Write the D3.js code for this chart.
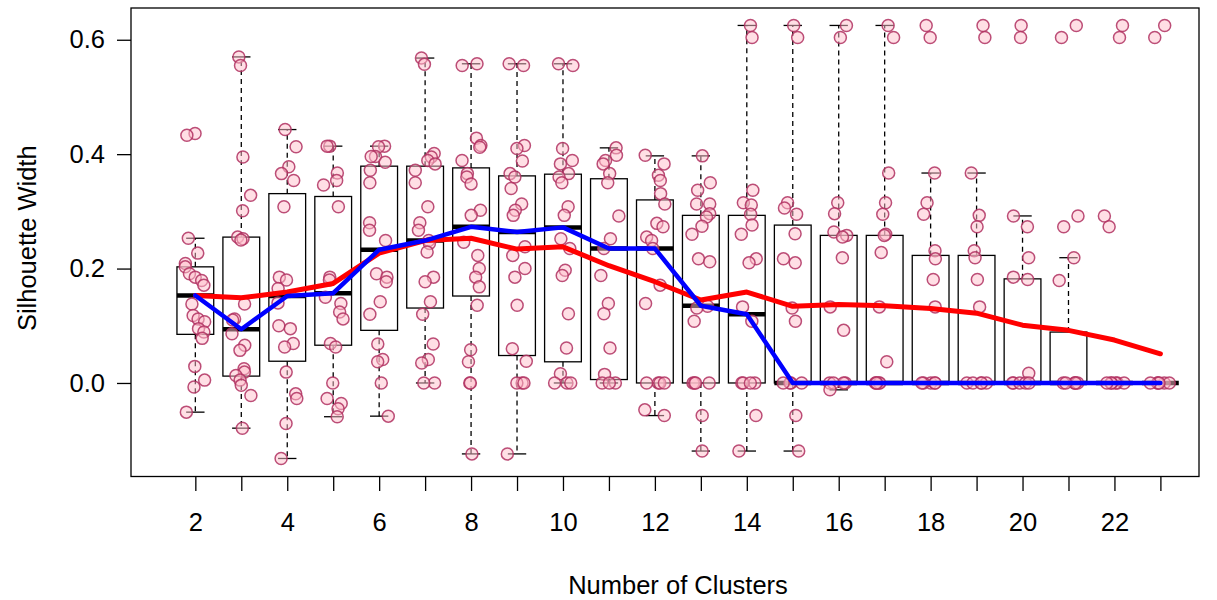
<!DOCTYPE html>
<html>
<head>
<meta charset="utf-8">
<script src="https://cdn.jsdelivr.net/npm/d3@7"></script>
<style>
  body { margin: 0; background: #fff; }
  text { font-family: "Liberation Sans", Arial, Helvetica, sans-serif; fill: #000; }
</style>
</head>
<body>
<div id="chart"></div>
<script>
let clusters = [2,3,4,5,6,7,8,9,10,11,12,13,14,15,16,17,18,19,20,21,22,23];

// box statistics per number of clusters
let q1 = [0.085,0.012,0.038,0.066,0.092,0.131,0.152,0.048,0.037,0.006,0,0,0,0,0,0,0,0,0,0,0,0];
let medians = [0.153,0.094,0.152,0.157,0.233,0.249,0.273,0.264,0.272,0.235,0.235,0.135,0.120,0,0,0,0,0,0,0,0,0];
let q3 = [0.203,0.255,0.331,0.326,0.379,0.379,0.376,0.362,0.365,0.357,0.320,0.293,0.293,0.276,0.258,0.258,0.223,0.223,0.182,0.089,0,0];
let whiskerLo = [-0.051,-0.079,-0.132,-0.059,-0.058,0,-0.124,-0.124,0,0,-0.057,-0.119,-0.119,-0.119,-0.012,0,0,0,0,0,0,0];
let whiskerHi = [0.253,0.570,0.443,0.414,0.414,0.568,0.558,0.558,0.558,0.411,0.397,0.397,0.625,0.625,0.625,0.625,0.367,0.367,0.292,0.219,0,0];

// mean silhouette width (red line)
let means = [0.153,0.149,0.159,0.174,0.227,0.249,0.253,0.234,0.238,0.205,0.177,0.145,0.159,0.134,0.137,0.135,0.130,0.122,0.101,0.092,0.075,0.051];

// individual silhouette widths, one list per number of clusters
let silhouettes = [
  [0.436,0.433,0.253,0.227,0.209,0.203,0.191,0.185,0.179,0.171,0.138,0.118,0.112,0.107,0.095,0.089,0.078,0.029,0.005,-0.007,-0.051],
  [0.570,0.555,0.395,0.328,0.301,0.255,0.252,0.250,0.138,0.112,0.110,0.086,0.066,0.057,0.025,0.019,0.013,0.005,-0.004,-0.022,-0.079],
  [0.443,0.413,0.378,0.366,0.354,0.308,0.185,0.180,0.165,0.140,0.100,0.095,0.069,0.063,0.019,-0.019,-0.027,-0.071,-0.132],
  [0.414,0.414,0.367,0.354,0.346,0.308,0.185,0.180,0.150,0.139,0.124,0.112,0.069,0.063,0.000,-0.027,-0.036,-0.045,-0.059],
  [0.414,0.413,0.396,0.396,0.386,0.372,0.350,0.280,0.267,0.249,0.191,0.185,0.177,0.142,0.120,0.068,0.041,0.037,0.000,-0.058],
  [0.568,0.557,0.401,0.395,0.389,0.383,0.372,0.350,0.308,0.280,0.267,0.249,0.244,0.229,0.185,0.177,0.142,0.120,0.068,0.041,0.035,0.000,0.000],
  [0.558,0.555,0.428,0.415,0.412,0.389,0.366,0.360,0.348,0.302,0.293,0.246,0.223,0.200,0.185,0.168,0.136,0.058,0.037,0.000,0.000,-0.124],
  [0.558,0.555,0.415,0.410,0.388,0.366,0.360,0.340,0.313,0.302,0.293,0.238,0.223,0.200,0.185,0.136,0.060,0.038,0.000,0.000,0.000,-0.124],
  [0.558,0.555,0.410,0.389,0.383,0.366,0.360,0.350,0.308,0.293,0.252,0.235,0.197,0.188,0.121,0.061,0.016,0.000,0.000,0.000],
  [0.411,0.398,0.389,0.383,0.366,0.350,0.292,0.252,0.235,0.188,0.139,0.121,0.061,0.015,0.000,0.000,0.000],
  [0.398,0.383,0.363,0.354,0.331,0.313,0.279,0.273,0.255,0.249,0.235,0.171,0.139,0.000,0.000,0.000,0.000,-0.047,-0.057],
  [0.397,0.350,0.337,0.313,0.313,0.296,0.290,0.274,0.260,0.217,0.212,0.134,0.131,0.108,0.000,0.000,0.000,0.000,-0.057,-0.119],
  [0.625,0.604,0.337,0.315,0.311,0.295,0.276,0.260,0.217,0.210,0.133,0.108,0.000,0.000,0.000,0.000,-0.057,-0.119],
  [0.625,0.604,0.315,0.306,0.295,0.261,0.217,0.210,0.131,0.108,0.000,0.000,0.000,0.000,-0.057,-0.119],
  [0.625,0.604,0.315,0.296,0.264,0.258,0.255,0.219,0.133,0.092,0.000,0.000,0.000,0.000,-0.012],
  [0.625,0.604,0.367,0.315,0.295,0.260,0.258,0.228,0.133,0.037,0,0,0,0,0],
  [0.625,0.604,0.367,0.315,0.295,0.231,0.217,0.181,0.133,0,0,0,0,0],
  [0.625,0.604,0.367,0.293,0.273,0.231,0.219,0.181,0.133,0,0,0,0,0],
  [0.625,0.604,0.292,0.273,0.219,0.185,0.181,0.017,0,0,0,0,0],
  [0.625,0.604,0.292,0.273,0.219,0.179,0,0,0,0,0,0],
  [0.625,0.604,0.292,0.273,0,0,0,0,0,0],
  [0.625,0.604,0,0,0,0,0,0]
];

let yTicks = [0.0,0.2,0.4,0.6];
let xTicks = clusters;
let xLabels = [2,4,6,8,10,12,14,16,18,20,22];

let width = 1217, height = 600;
let plot = {left: 131, right: 1199, top: 8, bottom: 476.5};
let fontSize = "25.5px";

let svg = d3.select("#chart").append("svg")
    .attr("width", width)
    .attr("height", height);

let x = d3.scaleLinear()
    .domain([0.6, 23.84])
    .range([plot.left, plot.right]);

let y = d3.scaleLinear()
    .domain([-0.1635, 0.6555])
    .range([plot.bottom, plot.top]);

let boxW = x(0.8) - x(0);
let capW = boxW / 2;

// boxes and whiskers
clusters.forEach((k, i) => {
    let g = svg.append("g");
    let cx = x(k);

    // dashed whiskers
    [[q3[i], whiskerHi[i]], [q1[i], whiskerLo[i]]].forEach(w => {
        if (w[0] !== w[1]) {
            g.append("line")
            .attr("x1", cx).attr("x2", cx)
            .attr("y1", y(w[0])).attr("y2", y(w[1]))
            .attr("stroke", "#000")
            .attr("stroke-width", 1.3)
            .attr("stroke-dasharray", "5,4");
        }
        g.append("line")
        .attr("x1", cx - capW/2).attr("x2", cx + capW/2)
        .attr("y1", y(w[1])).attr("y2", y(w[1]))
        .attr("stroke", "#000")
        .attr("stroke-width", 1.3);
    });

    g.append("rect")
    .attr("x", cx - boxW/2)
    .attr("y", y(q3[i]))
    .attr("width", boxW)
    .attr("height", y(q1[i]) - y(q3[i]))
    .attr("fill", "none")
    .attr("stroke", "#000")
    .attr("stroke-width", 1.3);

    g.append("line")
    .attr("x1", cx - boxW/2).attr("x2", cx + boxW/2)
    .attr("y1", y(medians[i])).attr("y2", y(medians[i]))
    .attr("stroke", "#000")
    .attr("stroke-width", 4.5);
});

// jittered points (fixed seed so the picture is stable)
let jitter = d3.randomUniform.source(d3.randomLcg(0.37))(-0.22, 0.22);
let pts = [];
clusters.forEach((k, i) => {
    silhouettes[i].forEach(v => pts.push({k: k + jitter(), v: v}));
});

svg.append("g").selectAll("circle")
    .data(pts)
    .join("circle")
    .attr("cx", d => x(d.k))
    .attr("cy", d => y(d.v))
    .attr("r", 6)
    .attr("fill", "rgba(255,192,203,0.5)")
    .attr("stroke", "rgba(176,48,96,0.85)")
    .attr("stroke-width", 1.5);

// mean and median lines
let line = d3.line()
    .x(d => x(d[0]))
    .y(d => y(d[1]));

svg.append("path")
    .datum(clusters.map((k, i) => [k, means[i]]))
    .attr("d", line)
    .attr("fill", "none")
    .attr("stroke", "#ff0000")
    .attr("stroke-width", 5)
    .attr("stroke-linejoin", "round")
    .attr("stroke-linecap", "round");

svg.append("path")
    .datum(clusters.map((k, i) => [k, medians[i]]))
    .attr("d", line)
    .attr("fill", "none")
    .attr("stroke", "#0000ff")
    .attr("stroke-width", 4.5)
    .attr("stroke-linejoin", "round")
    .attr("stroke-linecap", "round");

// frame
svg.append("rect")
    .attr("x", plot.left)
    .attr("y", plot.top)
    .attr("width", plot.right - plot.left)
    .attr("height", plot.bottom - plot.top)
    .attr("fill", "none")
    .attr("stroke", "#000")
    .attr("stroke-width", 1.3);

// y axis
let yAxis = svg.append("g")
    .attr("transform", "translate(" + plot.left + ",0)")
    .call(d3.axisLeft(y).tickValues(yTicks).tickSize(14).tickPadding(12).tickFormat(d3.format(".1f")));
yAxis.select(".domain").remove();
yAxis.selectAll("line").attr("stroke-width", 1.3);
yAxis.selectAll("text").style("font-size", fontSize).attr("font-family", null);

// x axis
let xAxis = svg.append("g")
    .attr("transform", "translate(0," + (plot.bottom + 0.5) + ")")
    .call(d3.axisBottom(x).tickValues(xTicks).tickSize(14).tickPadding(22)
        .tickFormat(d => xLabels.includes(d) ? d : ""));
xAxis.select(".domain").remove();
xAxis.selectAll("line").attr("stroke-width", 1.3);
xAxis.selectAll("text").style("font-size", fontSize).attr("font-family", null);

// axis titles
svg.append("text")
    .attr("x", 678)
    .attr("y", 594)
    .attr("text-anchor", "middle")
    .style("font-size", fontSize)
    .text("Number of Clusters");

svg.append("text")
    .attr("transform", "translate(36," + ((plot.top + plot.bottom) / 2 - 4) + ") rotate(-90)")
    .attr("text-anchor", "middle")
    .style("font-size", fontSize)
    .text("Silhouette Width");
</script>
</body>
</html>
